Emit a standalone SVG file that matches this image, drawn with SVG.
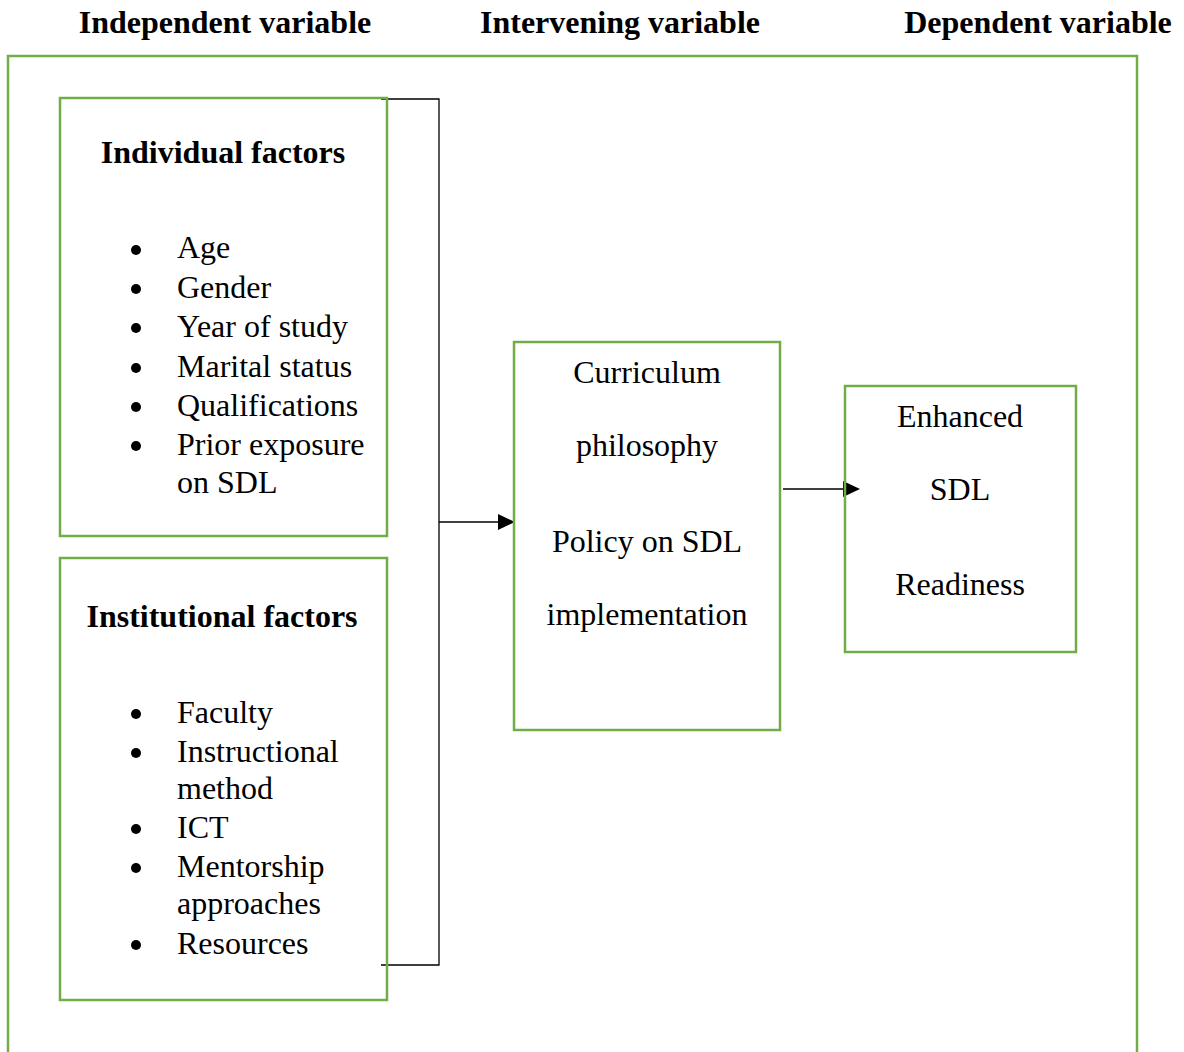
<svg xmlns="http://www.w3.org/2000/svg" width="1184" height="1052" viewBox="0 0 1184 1052">
<defs>
<style>
.box{fill:none;stroke:#70AD47;stroke-width:2.5}
.line{fill:none;stroke:#000;stroke-width:1.3}
.head{fill:#000;stroke:none}
text{font-family:"Liberation Serif","Times New Roman",serif;font-size:32px;fill:#000}
.h{font-weight:bold}
.c{text-anchor:middle}
.dot{fill:#000}
</style>
</defs>
<rect width="1184" height="1052" fill="#fff"/>
<g id="headers">
<text class="h c" x="225" y="33">Independent variable</text>
<text class="h c" x="620" y="33">Intervening variable</text>
<text class="h c" x="1038" y="33">Dependent variable</text>
</g>
<g id="frame">
<path class="box" d="M8,1060 V56 H1137 V1060"/>
</g>
<g id="connectors">
<path class="line" d="M381,99 H439 V965 H381"/>
<line class="line" x1="439" y1="522" x2="500" y2="522"/>
<path class="head" d="M498,514 L515,522 L498,530 Z"/>
<line class="line" x1="783" y1="489" x2="845" y2="489"/>
<path class="head" d="M843,481 L860,489 L843,497 Z"/>
</g>
<g id="individual">
<rect class="box" x="60" y="98" width="327" height="438"/>
<text class="h c" x="223" y="163">Individual factors</text>
<circle class="dot" cx="136" cy="250" r="5"/><text x="177" y="258">Age</text>
<circle class="dot" cx="136" cy="289" r="5"/><text x="177" y="298">Gender</text>
<circle class="dot" cx="136" cy="328" r="5"/><text x="177" y="337">Year of study</text>
<circle class="dot" cx="136" cy="368" r="5"/><text x="177" y="377">Marital status</text>
<circle class="dot" cx="136" cy="407" r="5"/><text x="177" y="416">Qualifications</text>
<circle class="dot" cx="136" cy="446" r="5"/><text x="177" y="455">Prior exposure</text>
<text x="177" y="493">on SDL</text>
</g>
<g id="institutional">
<rect class="box" x="60" y="558" width="327" height="442"/>
<text class="h c" x="222" y="627">Institutional factors</text>
<circle class="dot" cx="136" cy="714" r="5"/><text x="177" y="723">Faculty</text>
<circle class="dot" cx="136" cy="753" r="5"/><text x="177" y="762">Instructional</text>
<text x="177" y="799">method</text>
<circle class="dot" cx="136" cy="829" r="5"/><text x="177" y="838">ICT</text>
<circle class="dot" cx="136" cy="868" r="5"/><text x="177" y="877">Mentorship</text>
<text x="177" y="914">approaches</text>
<circle class="dot" cx="136" cy="945" r="5"/><text x="177" y="954">Resources</text>
</g>
<g id="intervening">
<rect class="box" x="514" y="342" width="266" height="388"/>
<text class="c" x="647" y="383">Curriculum</text>
<text class="c" x="647" y="456">philosophy</text>
<text class="c" x="647" y="552">Policy on SDL</text>
<text class="c" x="647" y="625">implementation</text>
</g>
<g id="dependent">
<rect class="box" x="845" y="386" width="231" height="266"/>
<text class="c" x="960" y="427">Enhanced</text>
<text class="c" x="960" y="500">SDL</text>
<text class="c" x="960" y="595">Readiness</text>
</g>
</svg>
